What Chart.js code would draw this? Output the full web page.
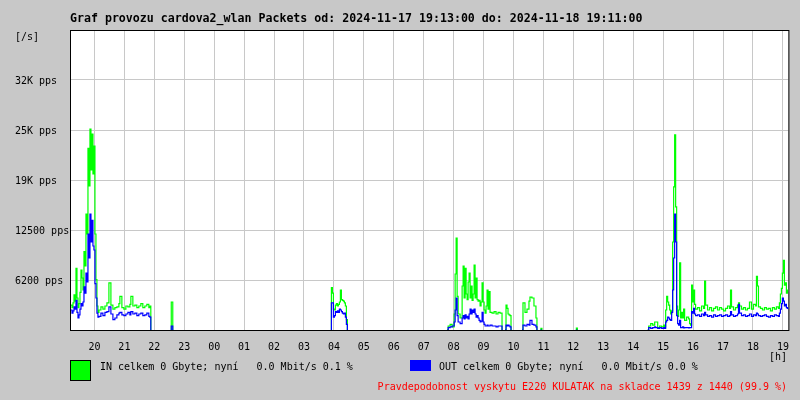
<!DOCTYPE html>
<html>
<head>
<meta charset="utf-8">
<script src="https://cdn.jsdelivr.net/npm/chart.js@4/dist/chart.umd.min.js"></script>
<style>
  html, body { margin: 0; padding: 0; background: #c8c8c8; }
  #wrap { width: 800px; height: 400px; }
</style>
</head>
<body>
<div id="wrap"><canvas id="chart" width="800" height="400"></canvas></div>
<script>
// minutes since 2024-11-17 19:13
const minutes = [
  0, 2, 4, 6, 8, 10, 12, 14, 16, 18, 20, 22, 24, 26, 28, 30, 32, 34, 36, 38, 40, 42, 44, 46, 48, 50, 52, 54,
  56, 60, 64, 68, 72, 76, 80, 84, 88, 92, 96, 98, 102, 106, 110, 114, 118, 120, 124, 128, 132, 136, 140, 144,
  148, 152, 156, 158, 160, 162,
  200, 201, 204, 206,
  521, 522, 524, 526, 528, 530, 532, 534, 536, 538, 540, 542, 544, 546, 548, 550, 552, 554, 556,
  754, 756, 760, 764, 768, 770, 772, 774, 776, 780, 784, 786, 788, 790, 792, 794, 796, 798, 800, 802, 804,
  806, 808, 810, 812, 814, 816, 818, 820, 822, 824, 826, 828, 830, 832, 834, 836, 838, 840, 844, 848, 852,
  856, 860, 864, 866,
  870, 872, 874, 876, 878, 880, 882, 884,
  904, 906, 910, 914, 918, 920, 924, 928, 932, 934, 936,
  941, 942, 944, 945,
  1012, 1013, 1015, 1016,
  1156, 1158, 1162, 1166, 1170, 1172, 1176, 1180, 1184, 1188, 1190, 1192, 1194, 1196, 1198, 1200, 1202,
  1204, 1206, 1208, 1210, 1212, 1214, 1216, 1218, 1220, 1222, 1224, 1226, 1228, 1230, 1234, 1238, 1240,
  1242, 1244, 1246, 1248, 1250, 1252, 1256, 1260, 1264, 1268, 1270, 1272, 1276, 1280, 1284, 1288, 1292,
  1296, 1300, 1304, 1308, 1312, 1316, 1320, 1322, 1324, 1328, 1332, 1336, 1338, 1340, 1344, 1348, 1352,
  1356, 1360, 1364, 1368, 1372, 1374, 1376, 1378, 1382, 1386, 1390, 1394, 1398, 1402, 1406, 1410, 1414,
  1418, 1420, 1422, 1424, 1426, 1428, 1430, 1432, 1434, 1436, 1438
]

const inPackets = [
  3100, 2800, 3400, 4400, 3600, 7700, 4000, 2800, 3300, 4700, 7500, 6500, 5000, 9800, 8000, 14500, 12000,
  22700, 18000, 25100, 20000, 24500, 19500, 23000, 12000, 6300, 3000, 2200,
  2500, 2900, 2600, 3000, 3400, 5900, 3100, 2600, 2800, 2900, 3300, 4200, 2800, 2600, 3000, 2900, 3200, 4200,
  3000, 3100, 2800, 3000, 3300, 2800, 3000, 3200, 2800, 3000, 0, null,
  0, 3500, 0, null,
  0, 5300, 4600, 2600, 2500, 3100, 3300, 3000, 3200, 3500, 5000, 3800, 3700, 3600, 3400, 3000, 1300, 0, null,
  0, 500, 700, 400, 2000, 7000, 11500, 4200, 2000, 1500, 5500, 8000, 4000, 7700, 4500, 3800, 6000, 7100, 4000,
  5500, 3700, 4500, 8100, 4000, 6500, 3800, 3600, 3700, 3000, 3500, 5900, 3500, 2500, 2100, 3000, 5000, 2600,
  4800, 2200, 2100, 2300, 2000, 2200, 2100, 0, null,
  0, 3100, 2700, 2000, 1900, 1800, 0, null,
  0, 3400, 2200, 2600, 3600, 4100, 4000, 3000, 1500, 0, null,
  0, 200, 0, null,
  0, 250, 0, null,
  0, 500, 800, 600, 1000, 1000, 300, 500, 400, 600, 400, 2500, 4200, 3500, 3100, 2500, 2000,
  2400, 11000, 17900, 24400, 15400, 3000, 1700, 2500, 8400, 1500, 2200, 1500, 2600, 1200, 1600, 1400, 800,
  600, 5600, 3500, 5000, 3200, 2600, 2800, 2400, 3000, 2700, 6100, 3100, 2500, 2800, 2400, 2700, 2900,
  2500, 2800, 2600, 2400, 2700, 3000, 2700, 5000, 2900, 2500, 2800, 3100, 3400, 3000, 2600, 2800, 2500,
  2700, 3500, 2600, 3200, 3000, 6700, 5500, 2900, 2700, 2500, 2800, 2600, 2700, 2400, 2800, 2600, 2900,
  2700, 3400, 4500, 5200, 7100, 8700, 5600, 5900, 4600, 5000, 4800
]

const outPackets = [
  2500, 2100, 2400, 2900, 2600, 3700, 2200, 1500, 1900, 2600, 3300, 3000, 3500, 5400, 4600, 7100, 6000,
  12000, 9000, 14500, 11000, 13700, 10500, 10000, 5800, 4000, 2100, 1600,
  1700, 2100, 1800, 2200, 2300, 2900, 2000, 1300, 1500, 1900, 2100, 2200, 1900, 1800, 2000, 2200, 1900, 2300,
  2000, 2100, 1800, 2000, 2100, 1800, 1900, 2100, 1700, 1600, 0, null,
  0, 500, 0, null,
  0, 3400, 3400, 1600, 1800, 2300, 2200, 2400, 2200, 2600, 2500, 2300, 2100, 2000, 2100, 1600, 700, 0, null,
  0, 300, 400, 500, 1000, 2500, 4000, 1800, 1000, 800, 1500, 1800, 1400, 1900, 1500, 1700, 1400, 2000, 2600,
  2000, 2500, 2200, 2600, 2000, 1600, 1800, 1500, 1200, 1000, 1100, 2200, 1000, 700, 500, 500, 600, 500,
  500, 600, 500, 500, 400, 500, 500, 0, null,
  0, 600, 500, 600, 500, 400, 0, null,
  0, 600, 500, 700, 600, 1200, 700, 600, 400, 0, null,
  0, 0, 0, null,
  0, 0, 0, null,
  0, 300, 200, 300, 400, 300, 200, 300, 200, 300, 200, 1000, 1200, 1600, 1500, 1300, 1200,
  2200, 5000, 9000, 14500, 11000, 1800, 800, 600, 1200, 300, 300, 400, 250, 300, 300, 250, 300,
  300, 2300, 2100, 2700, 2000, 1800, 1900, 1700, 2000, 1800, 2200, 1900, 1700, 1800, 1600, 1900, 1700,
  1800, 1900, 1700, 1800, 1900, 1700, 1800, 2300, 1900, 1700, 1800, 2000, 3200, 2100, 1800, 1900, 1700,
  1800, 2000, 1700, 1900, 1800, 2100, 2000, 1800, 1700, 1800, 1900, 1700, 1600, 1800, 1700, 1900, 1800,
  1700, 2100, 2600, 3300, 4000, 3600, 3000, 3200, 2800, 2700, 2600
]

const hourLabels = ["20", "21", "22", "23", "00", "01", "02", "03", "04", "05", "06", "07",
  "08", "09", "10", "11", "12", "13", "14", "15", "16", "17", "18", "19"]
const firstHourAt = 47 // 20:00 is 47 minutes after 19:13

const yTickValues = [6250, 12500, 18750, 25000, 31250]
const yTickLabels = ["6200 pps", "12500 pps", "19K pps", "25K pps", "32K pps"]

const titleText = "Graf provozu cardova2_wlan Packets od: 2024-11-17 19:13:00 do: 2024-11-18 19:11:00"
const inLegend = "IN celkem 0 Gbyte; nyní   0.0 Mbit/s 0.1 %"
const outLegend = "OUT celkem 0 Gbyte; nyní   0.0 Mbit/s 0.0 %"
const noteText = "Pravdepodobnost vyskytu E220 KULATAK na skladce 1439 z 1440 (99.9 %)"

const MONO = "'DejaVu Sans Mono', monospace"
const GRID = "#c8c8c8"

// white plot area, black frame, title and legend like rrdtool
const rrdFrame = {
  id: "rrdFrame",
  beforeDraw(chart) {
    const { ctx, chartArea: a } = chart
    ctx.save()
    ctx.fillStyle = "#ffffff"
    ctx.fillRect(a.left, a.top, a.right - a.left, a.bottom - a.top)
    ctx.restore()
  },
  beforeDatasetsDraw(chart) {
    const { ctx, chartArea: a } = chart
    ctx.save()
    ctx.strokeStyle = "#000000"
    ctx.lineWidth = 1
    ctx.strokeRect(a.left + 0.5, a.top + 0.5, a.right - a.left, a.bottom - a.top)
    ctx.restore()
  },
  afterDraw(chart) {
    const { ctx, chartArea: a } = chart
    ctx.save()
    ctx.textBaseline = "middle"

    ctx.fillStyle = "#000000"
    ctx.font = "bold 11.6px " + MONO
    ctx.textAlign = "left"
    ctx.fillText(titleText, a.left, 19)

    ctx.font = "10px " + MONO
    ctx.fillText("[/s]", 15, 37)
    ctx.textAlign = "right"
    ctx.fillText("[h]", 787, 357)

    // IN legend
    ctx.textAlign = "left"
    ctx.fillStyle = "#00ff00"
    ctx.fillRect(70, 360, 21, 21)
    ctx.strokeStyle = "#000000"
    ctx.strokeRect(70.5, 360.5, 20, 20)
    ctx.fillStyle = "#000000"
    ctx.fillText(inLegend, 100, 367)

    // OUT legend
    ctx.fillStyle = "#0000ff"
    ctx.fillRect(410, 360, 21, 11)
    ctx.fillStyle = "#000000"
    ctx.fillText(outLegend, 439, 367)

    ctx.fillStyle = "#ff0000"
    ctx.textAlign = "right"
    ctx.fillText(noteText, 787, 387)
    ctx.restore()
  }
}

Chart.defaults.font.family = MONO
Chart.defaults.font.size = 10
Chart.defaults.color = "#000000"

const points = (vals) => minutes.map((m, i) => ({ x: m, y: vals[i] }))

new Chart(document.getElementById("chart"), {
  type: "line",
  data: {
    datasets: [
      {
        label: "OUT",
        data: points(outPackets),
        borderColor: "#0000ff",
        borderWidth: 1.2,
        pointRadius: 0,
        stepped: true,
        spanGaps: false,
        order: 1,
      },
      {
        label: "IN",
        data: points(inPackets),
        borderColor: "#00ff00",
        borderWidth: 1.2,
        pointRadius: 0,
        stepped: true,
        spanGaps: false,
        order: 2,
      },
    ],
  },
  options: {
    responsive: false,
    devicePixelRatio: 1,
    animation: false,
    layout: { padding: { left: 15, top: 30, right: 10, bottom: 0 } },
    plugins: {
      legend: { display: false },
      tooltip: { enabled: false },
      title: { display: false },
    },
    scales: {
      x: {
        type: "linear",
        min: -2,
        max: 1438,
        afterFit(scale) { scale.height = 70 },
        afterBuildTicks(scale) {
          scale.ticks = hourLabels.map((h, i) => ({ value: firstHourAt + 60 * i }))
        },
        ticks: {
          autoSkip: false,
          maxRotation: 0,
          padding: 11,
          callback: (v) => hourLabels[Math.round((v - firstHourAt) / 60)],
        },
        grid: { color: GRID, drawTicks: false },
        border: { display: false },
      },
      y: {
        min: 0,
        max: 37500,
        afterFit(scale) { scale.width = 55 },
        afterBuildTicks(scale) {
          scale.ticks = yTickValues.map((v) => ({ value: v }))
        },
        ticks: {
          crossAlign: "far",
          padding: 0,
          labelOffset: 1.5,
          callback: (v) => yTickLabels[yTickValues.indexOf(v)],
        },
        grid: { color: GRID, drawTicks: false },
        border: { display: false },
      },
    },
  },
  plugins: [rrdFrame],
})
</script>
</body>
</html>
